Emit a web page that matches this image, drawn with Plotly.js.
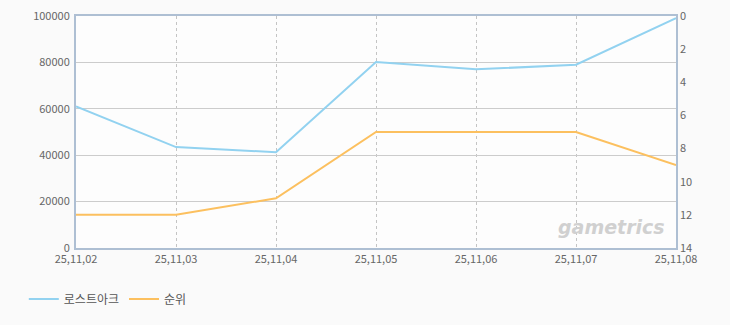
<!DOCTYPE html>
<html>
<head>
<meta charset="utf-8">
<script src="https://cdn.plot.ly/plotly-3.0.1.min.js"></script>
<style>
html,body{margin:0;padding:0;background:#fafafa;}
#chart{width:730px;height:325px;}
</style>
</head>
<body>
<div id="chart"></div>
<script>
const dates = ["25,11,02","25,11,03","25,11,04","25,11,05","25,11,06","25,11,07","25,11,08"];
const lostArkValues = [61000, 43500, 41300, 80200, 77000, 79000, 99100];
const rankValues = [12, 12, 11, 7, 7, 7, 9];
const seriesNames = ["로스트아크", "순위"];
const leftTicks = [0, 20000, 40000, 60000, 80000, 100000];
const rightTicks = [0, 2, 4, 6, 8, 10, 12, 14];

const font = {family: "'Noto Sans CJK KR', 'DejaVu Sans', sans-serif", size: 11, color: "#666"};
const axisLine = "#aebfd3";

const traces = [
  {x: dates, y: lostArkValues, name: seriesNames[0], type: "scatter", mode: "lines",
   line: {color: "#92d2f0", width: 2}, yaxis: "y"},
  {x: dates, y: rankValues, name: seriesNames[1], type: "scatter", mode: "lines",
   line: {color: "#fcc05f", width: 2}, yaxis: "y2"}
];

const layout = {
  width: 730, height: 325,
  margin: {l: 76, r: 54, t: 16, b: 77},
  paper_bgcolor: "#fafafa",
  plot_bgcolor: "#fdfdfd",
  font: font,
  hovermode: false,
  showlegend: true,
  legend: {orientation: "h", x: -0.087, xanchor: "left", y: -0.22, yanchor: "middle",
           font: {family: font.family, size: 12, color: "#555"}, itemwidth: 30,
           bgcolor: "rgba(0,0,0,0)"},
  xaxis: {type: "category", range: [0, dates.length - 1], showgrid: true,
          gridcolor: "#c4c4c4", griddash: "3px,3px", gridwidth: 1,
          showline: true, linecolor: axisLine, linewidth: 2, mirror: true,
          ticks: "", tickfont: font, zeroline: false, fixedrange: true},
  yaxis: {range: [0, 100000], tickvals: leftTicks, ticktext: leftTicks.map(String),
          showgrid: true, gridcolor: "#cccccc", gridwidth: 1,
          showline: true, linecolor: axisLine, linewidth: 2, mirror: true,
          ticks: "", tickfont: font, zeroline: false, ticklabelstandoff: 2},
  yaxis2: {overlaying: "y", side: "right", range: [14, 0], tickvals: rightTicks,
           showgrid: false, showline: false, ticks: "", tickfont: font, zeroline: false,
           ticklabelstandoff: 3},
  annotations: [{text: "<b><i>gametrics</i></b>", xref: "paper", yref: "paper",
                 x: 0.985, y: 0.09, xanchor: "right", yanchor: "middle", showarrow: false,
                 font: {family: "'DejaVu Sans', sans-serif", size: 19, color: "#d0d0d0"}}]
};

Plotly.newPlot("chart", traces, layout, {displayModeBar: false, staticPlot: true});
</script>
</body>
</html>
